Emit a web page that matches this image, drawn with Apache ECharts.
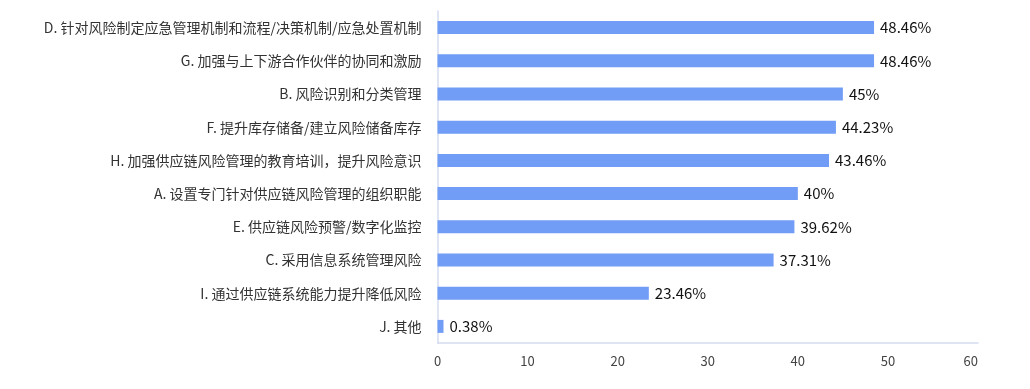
<!DOCTYPE html>
<html><head><meta charset="utf-8">
<script src="https://cdn.jsdelivr.net/npm/echarts@6/dist/echarts.min.js"></script>
<style>html,body{margin:0;padding:0;background:#fff}#c{width:1030px;height:389px}</style>
</head><body><div id="c"></div>
<script>
const categories = [
  "D. 针对风险制定应急管理机制和流程/决策机制/应急处置机制",
  "G. 加强与上下游合作伙伴的协同和激励",
  "B. 风险识别和分类管理",
  "F. 提升库存储备/建立风险储备库存",
  "H. 加强供应链风险管理的教育培训，提升风险意识",
  "A. 设置专门针对供应链风险管理的组织职能",
  "E. 供应链风险预警/数字化监控",
  "C. 采用信息系统管理风险",
  "I. 通过供应链系统能力提升降低风险",
  "J. 其他"
];
const values = [48.46, 48.46, 45, 44.23, 43.46, 40, 39.62, 37.31, 23.46, 0.38];
const xTicks = {min: 0, max: 60, interval: 10};

const chart = echarts.init(document.getElementById('c'), null, {renderer: 'canvas'});
chart.setOption({
  animation: false,
  grid: {left: 437.5, right: 52, top: 11, bottom: 46, containLabel: false},
  xAxis: {
    type: 'value', min: xTicks.min, max: xTicks.max, interval: xTicks.interval,
    splitLine: {show: false},
    axisLine: {show: true, lineStyle: {color: '#d5dcef', width: 1.5}},
    axisTick: {show: false},
    axisLabel: {color: '#444', fontSize: 13, margin: 12, fontFamily: 'Noto Sans CJK SC', alignMaxLabel: 'right'}
  },
  yAxis: {
    type: 'category', data: categories.slice().reverse(),
    axisLine: {show: true, lineStyle: {color: '#d5dcef', width: 1.5}},
    axisTick: {show: false},
    axisLabel: {color: '#333', fontSize: 14, margin: 16, fontFamily: 'Noto Sans CJK SC'}
  },
  series: [{
    type: 'bar',
    data: values.slice().reverse(),
    barWidth: 13,
    barMinHeight: 6,
    itemStyle: {color: '#729df7'},
    label: {
      show: true, position: 'right', distance: 6, color: '#111', fontSize: 15,
      fontFamily: 'Noto Sans CJK SC',
      formatter: p => p.value + '%'
    }
  }]
});
</script></body></html>
